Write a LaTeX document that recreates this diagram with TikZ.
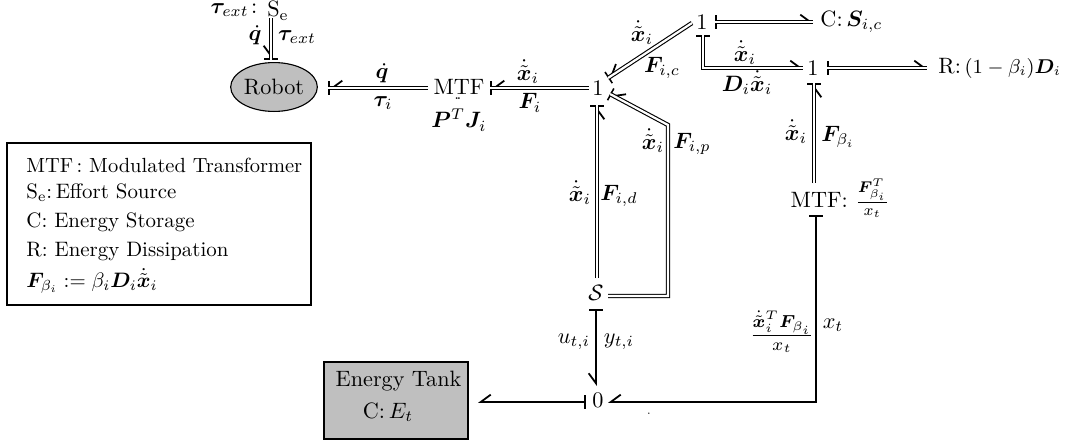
\documentclass[tikz,border=0pt]{standalone}
\usepackage{amsmath,amssymb,bm}
\usetikzlibrary{arrows.meta,shapes.geometric}
\tikzset{
	bond/.style={preaction={draw,double=none,line width=0.8pt,#1},double,line width=0.5pt,double distance=1pt},
	power/.style={line width=0.8pt},
	junction/.style={inner sep=0pt},
	lbl/.style={inner sep=0pt},
	legendline/.style={inner sep=0pt,anchor=west,scale=0.94},
	fillbox/.style={draw,fill=black!25,line width=0.6pt,inner sep=0pt},
	barR/.tip={Straight Barb[right,length=4.5pt,width=6.6pt]},
	barL/.tip={Straight Barb[left,length=4.5pt,width=6.6pt]},
	cstroke/.tip={Bar[width=6pt,line width=0.7pt]},
}
\newcommand{\xdi}{\dot{\tilde{\bm{x}}}_i}

\begin{document}
\begin{tikzpicture}[x=0.45pt,y=-0.45pt]
	%%%%% START %%%%%
	\useasboundingbox (0,0) rectangle (1066,446);
	
	\node[fillbox,ellipse,minimum width=39pt,minimum height=22pt,line width=0.5pt] (robot) at (274,87) {Robot};
	\node[junction] (se) at (278,11) {$\mathrm{S_e}$};
	\node[lbl] (taulbl) at (234,10) {$\bm{\tau}_{ext}\!:$};
	\node[junction] (mtfa) at (459,87) {MTF};
	\node[lbl] (pjlbl) at (459,120) {$\bm{P}^T\bm{J}_i$};
	\node[lbl] (ddots) at (458,99) {\scriptsize$\cdot\!\cdot$};
	\node[junction] (onea) at (598,88) {1};
	\node[junction] (oneb) at (702,22) {1};
	\node[junction] (onec) at (813,68) {1};
	\node[junction,anchor=west] (cstore) at (820,22) {C:\,$\bm{S}_{i,c}$};
	\node[junction,anchor=west] (rdiss) at (938,68) {R:\,\small$(1-\beta_i)\bm{D}_i$};
	\node[junction] (mtfb) at (840,198) {MTF:\,\,$\frac{\bm{F}_{\beta_i}^T}{x_t}$};
	\node[junction] (ssrc) at (596,293) {$\mathcal{S}$};
	\node[junction] (zero) at (598,400) {0};
	\node[fillbox,minimum width=64.8pt,minimum height=34.6pt] (tank) at (396,400.5) {};
	\node[lbl] (tanka) at (398.5,381) {Energy Tank};
	\node[lbl] (tankb) at (388,412) {C:\,$E_t$};
	
	\coordinate (seS) at (271,18);
	\coordinate (robN) at (271,60);
	\coordinate (mtfaW) at (428,88);
	\coordinate (robE) at (328,88);
	\coordinate (oneaW) at (589,88);
	\coordinate (mtfaE) at (490,88);
	\coordinate (onebW) at (692,23);
	\coordinate (oneaNE) at (608,78);
	\coordinate (onebE) at (715,22);
	\coordinate (cW) at (813,22);
	\coordinate (onebS) at (703,35);
	\coordinate (onecW) at (803,68);
	\coordinate (oneaSE) at (610,94);
	\coordinate (ssrcE) at (608,296);
	\coordinate (pbend) at (668,125);
	\coordinate (oneaS) at (597,105);
	\coordinate (ssrcN) at (597,278);
	\coordinate (onecS) at (814,83);
	\coordinate (mtfbN) at (814,183);
	\coordinate (onecE) at (827,68);
	\coordinate (rW) at (927,68);
	\coordinate (ssrcS) at (596,309);
	\coordinate (zeroN) at (596,386);
	\coordinate (mtfbS) at (816,215);
	\coordinate (zeroE) at (608,402);
	\coordinate (zeroW) at (586,402);
	\coordinate (tankE) at (478,402);
	
	\draw[bond={-{barR[sep=0pt]cstroke}}] (seS) -- (robN);
	\draw[bond={-{barR[sep=0pt]cstroke}}] (mtfaW) -- (robE);
	\draw[bond={-{barR[sep=0pt]cstroke}}] (oneaW) -- (mtfaE);
	\draw[bond={-{barR[sep=0pt]cstroke}}] (onebW) -- (oneaNE);
	\draw[bond={cstroke-{barL}}] (onebE) -- (cW);
	\draw[bond={cstroke-{barL}}] (onebS) |- (onecW);
	\draw[bond={-{barR[sep=0pt]cstroke}}] (ssrcE) -| (pbend) -- (oneaSE);
	\draw[bond={-{barR[sep=0pt]cstroke}}] (ssrcN) -- (oneaS);
	\draw[bond={-{barR[sep=0pt]cstroke}}] (mtfbN) -- (onecS);
	\draw[bond={cstroke-{barL}}] (onecE) -- (rW);
	
	\draw[power,cstroke-barR] (ssrcS) -- (zeroN);
	\draw[power,cstroke-barR] (mtfbS) |- (zeroE);
	\draw[power,cstroke-barR] (zeroW) -- (tankE);
	
	\node[lbl] at (255,35) {$\dot{\bm{q}}$};
	\node[lbl] at (297,37) {$\bm{\tau}_{ext}$};
	\node[lbl] at (382,73) {$\dot{\bm{q}}$};
	\node[lbl] at (383,103) {$\bm{\tau}_i$};
	\node[lbl] at (528,72) {$\xdi$};
	\node[lbl] at (530,103) {$\bm{F}_i$};
	\node[lbl] at (642,33) {$\xdi$};
	\node[lbl] at (662,68) {$\bm{F}_{i,c}$};
	\node[lbl] at (745,53) {$\xdi$};
	\node[lbl] at (747,83) {$\bm{D}_i\xdi$};
	\node[lbl] at (653,141) {$\xdi$};
	\node[lbl] at (692,144) {$\bm{F}_{i,p}$};
	\node[lbl] at (580,193) {$\xdi$};
	\node[lbl] at (619,196) {$\bm{F}_{i,d}$};
	\node[lbl] at (796,132) {$\xdi$};
	\node[lbl] at (838,137) {$\bm{F}_{\beta_i}$};
	\node[lbl] at (574,342) {$u_{t,i}$};
	\node[lbl] at (619,342) {$y_{t,i}$};
	\node[lbl,scale=1.12] at (782,332) {$\frac{\xdi^{T}\bm{F}_{\beta_i}}{x_t}$};
	\node[lbl] at (833,325) {$x_t$};
	\node[lbl] at (649,414) {\tiny$\cdot$};
	
	\node[draw,line width=1pt,minimum width=136.8pt,minimum height=72.9pt,inner sep=0pt] (legendbox) at (159,224) {};
	\node[legendline,scale=0.98] at (26,165) {MTF\,: Modulated Transformer};
	\node[legendline] at (26,193) {$\mathrm{S_e}$:\,Effort Source};
	\node[legendline] at (26,222) {C: Energy Storage};
	\node[legendline] at (26,252) {R: Energy Dissipation};
	\node[legendline] at (26,281) {$\bm{F}_{\beta_i}:=\beta_i\bm{D}_i\xdi$};
	
	%%%%% END %%%%%
\end{tikzpicture}
\end{document}
